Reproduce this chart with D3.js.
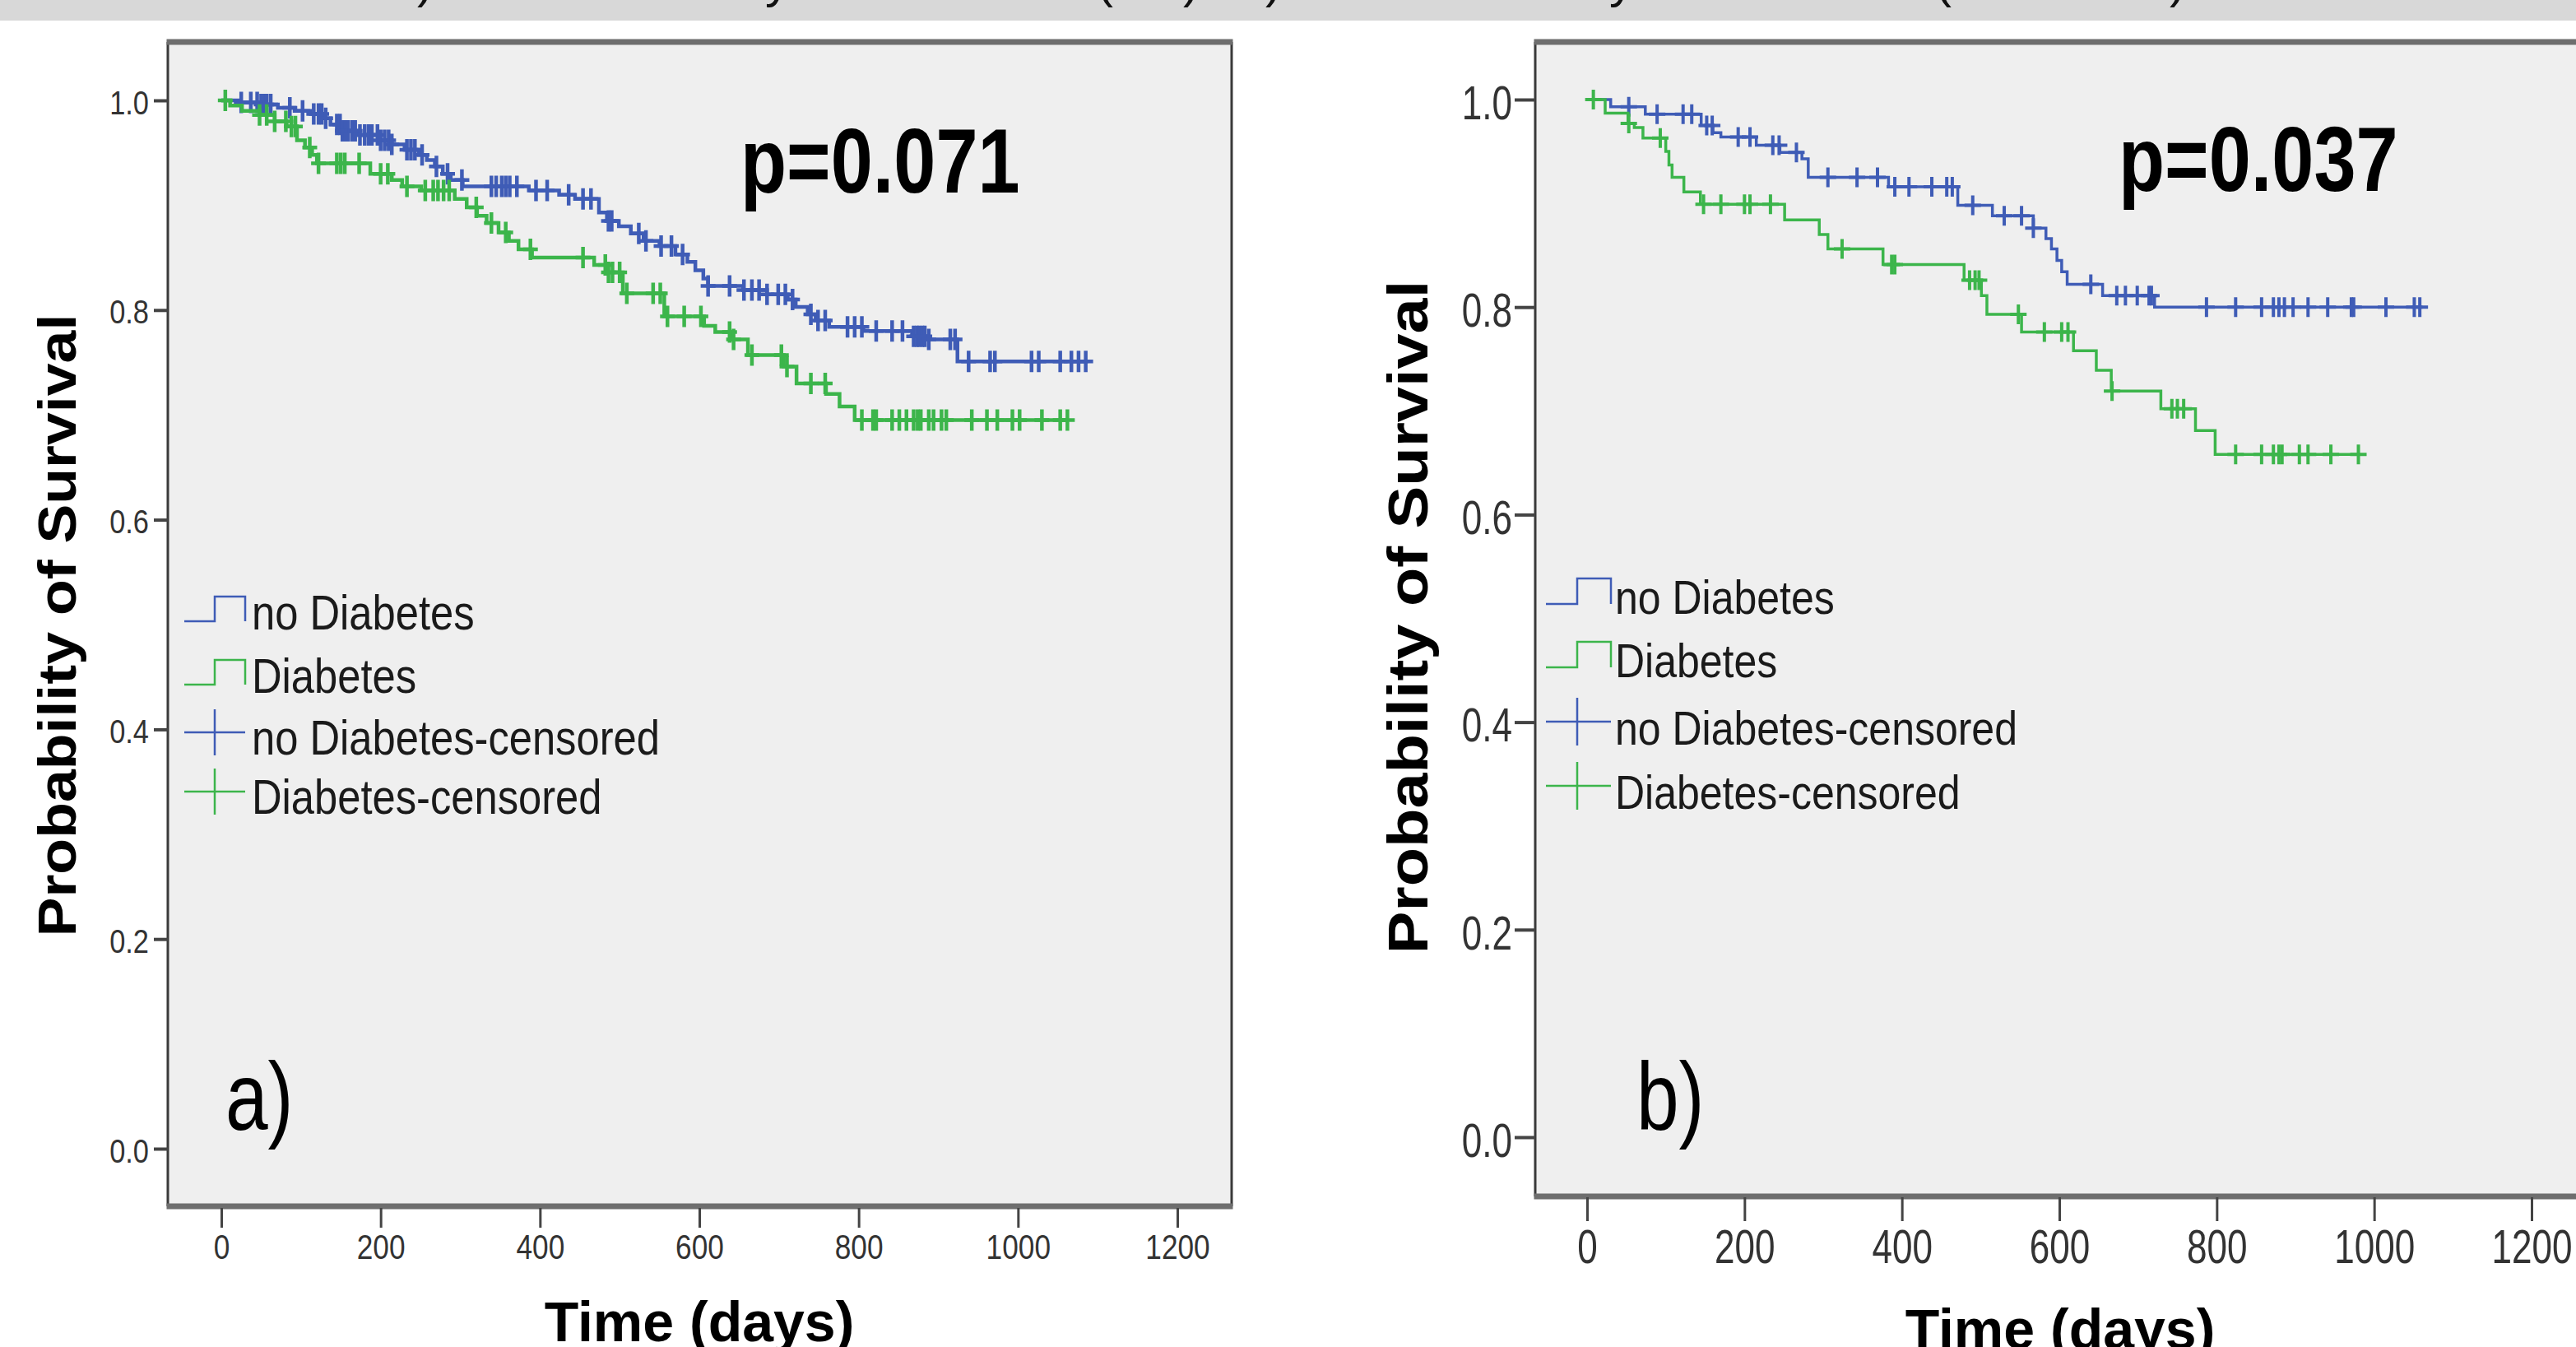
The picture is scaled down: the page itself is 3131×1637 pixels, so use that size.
<!DOCTYPE html>
<html>
<head>
<meta charset="utf-8">
<script src="https://cdn.jsdelivr.net/npm/d3@7"></script>
<style>
  body { margin: 0; background: #fff; }
  svg { display: block; font-family: "Liberation Sans", Arial, sans-serif; }
</style>
</head>
<body>
<svg id="chart" width="3131" height="1637"></svg>
<script>
// ticks + labels
const timeTicks = [0, 200, 400, 600, 800, 1000, 1200];
const survTicks = [0, 0.2, 0.4, 0.6, 0.8, 1.0];
const legendLabels = ["no Diabetes", "Diabetes", "no Diabetes-censored", "Diabetes-censored"];
const pValues = ["p=0.071", "p=0.037"];
const panelLetters = ["a)", "b)"];
const xTitle = "Time (days)";
const yTitle = "Probability of Survival";

// panel a, no diabetes: [day, survival after drop]
const aNoDiabSteps = [[0,1.0],[21,0.998],[46,0.996],[71,0.993],[92,0.990],[112,0.987],[127,0.983],[137,0.977],
  [152,0.971],[172,0.967],[197,0.962],[214,0.958],[230,0.953],[248,0.948],[258,0.943],[268,0.937],[278,0.930],
  [288,0.924],[303,0.918],[386,0.914],[424,0.910],[444,0.906],[474,0.893],[484,0.885],[499,0.880],[514,0.873],
  [530,0.866],[550,0.861],[570,0.853],[585,0.846],[595,0.838],[605,0.830],[611,0.823],[655,0.819],[685,0.815],
  [711,0.810],[721,0.803],[736,0.796],[746,0.790],[763,0.784],[806,0.780],[867,0.775],[887,0.772],[924,0.751]];
const aNoDiabEnd = 1088;
const aNoDiabCens = [25,37,45,50,54,57,62,86,102,116,122,126,131,145,149,152,156,159,164,168,174,180,185,189,196,
  200,205,210,214,233,238,243,252,270,284,302,339,345,352,357,362,371,395,409,436,454,464,486,490,524,533,552,565,
  579,611,638,656,666,675,685,699,708,717,740,749,758,786,795,804,822,842,855,869,873,876,880,883,888,915,921,938,
  965,971,1017,1026,1053,1067,1076,1085];

// panel a, diabetes
const aDiabSteps = [[0,1.0],[11,0.995],[26,0.990],[48,0.986],[67,0.980],[82,0.975],[95,0.962],[105,0.955],
  [114,0.948],[120,0.940],[187,0.930],[214,0.924],[227,0.918],[251,0.914],[293,0.906],[308,0.898],[321,0.890],
  [333,0.883],[348,0.874],[361,0.866],[373,0.858],[390,0.850],[468,0.843],[484,0.836],[504,0.816],[556,0.794],
  [606,0.785],[620,0.779],[640,0.772],[661,0.757],[706,0.746],[722,0.730],[759,0.720],[776,0.708],[795,0.695]];
const aDiabEnd = 1062;
const aDiabCens = [5,48,57,67,81,88,93,111,122,145,150,155,173,200,209,233,256,266,272,279,286,320,339,357,388,
  454,482,486,491,500,509,542,551,560,581,602,638,643,666,703,710,740,758,804,818,822,842,851,860,869,874,878,888,
  894,904,910,942,961,974,993,1002,1030,1053,1062];

// panel b, no diabetes
const bNoDiabSteps = [[0,1.0],[30,0.993],[74,0.986],[145,0.975],[160,0.968],[170,0.964],[215,0.956],[245,0.949],
  [273,0.943],[281,0.925],[383,0.916],[471,0.898],[515,0.888],[567,0.876],[583,0.866],[590,0.856],[597,0.845],
  [603,0.834],[610,0.822],[655,0.811],[721,0.800]];
const bNoDiabEnd = 1060;
const bNoDiabCens = [53,89,122,133,152,159,192,207,236,244,266,306,343,369,391,409,438,457,464,490,530,552,567,
  640,673,684,699,714,717,787,824,857,872,879,886,897,916,941,971,974,1015,1051,1058];

// panel b, diabetes
const bDiabSteps = [[0,1.0],[23,0.987],[52,0.977],[60,0.973],[71,0.963],[100,0.950],[104,0.937],[108,0.925],
  [123,0.911],[144,0.899],[251,0.884],[295,0.870],[306,0.856],[376,0.841],[479,0.826],[501,0.811],[508,0.793],
  [552,0.776],[618,0.758],[647,0.739],[666,0.719],[729,0.702],[773,0.681],[798,0.658]];
const bDiabEnd = 982;
const bDiabCens = [8,53,93,148,170,200,207,233,324,387,391,486,493,498,548,581,603,611,667,743,750,758,824,857,
  872,879,883,905,916,945,980];

const blue = "#3f5cb6";
const green = "#3cb54b";

const svg = d3.select("#chart");

// grey strip at the top (cut-off caption)
svg.append("rect").attr("x", 0).attr("y", 0).attr("width", 3131).attr("height", 25).attr("fill", "#d8d8d8");
const band = svg.append("g");
band.append("clipPath").attr("id", "bandclip").append("rect").attr("width", 3131).attr("height", 25);
[[517, ")"], [945, "y"], [1343, "("], [1448, ")"], [1548, ")"], [1971, "y"], [2362, "("], [2647, ")"]].forEach(d => {
  band.append("text").attr("clip-path", "url(#bandclip)")
    .attr("x", d[0]).attr("y", -3).attr("text-anchor", "middle")
    .attr("font-size", 60).attr("fill", "#111").text(d[1]);
});

const panels = [
  {
    series: [
      { steps: aNoDiabSteps, end: aNoDiabEnd, cens: aNoDiabCens, color: blue },
      { steps: aDiabSteps, end: aDiabEnd, cens: aDiabCens, color: green },
    ],
    p: pValues[0], letter: panelLetters[0],
    frame: { x0: 204, x1: 1497, y0: 51, y1: 1466 },
    xr: [269, 1431], yr: [1396, 122],
    xTickY: 1468, xTickSize: 24, xTickPad: 8, xFont: 42, xSx: 0.84,
    yTickSize: 17, yTickPad: 6, yFont: 40, ySx: 0.86,
    crossH: 9, crossV: 13, lw: 4.5, cw: 4.5,
    pX: 900, pY: 234, letterX: 274, letterY: 1373,
    xTitleX: 850, xTitleY: 1630,
    yTitleX: 92, yTitleY: 760, yTitleFont: 64, yTitleSx: 1.12,
    leg: { x0: 224, xm: 261, x1: 298, tx: 306, base: [765, 842, 917, 989], font: 60, sx: 0.845, lo: -10, hi: -40, cy: -27, cv: 28 },
  },
  {
    series: [
      { steps: bNoDiabSteps, end: bNoDiabEnd, cens: bNoDiabCens, color: blue },
      { steps: bDiabSteps, end: bDiabEnd, cens: bDiabCens, color: green },
    ],
    p: pValues[1], letter: panelLetters[1],
    frame: { x0: 1866, x1: 3150, y0: 51, y1: 1454 },
    xr: [1929, 3077], yr: [1382, 121],
    xTickY: 1455, xTickSize: 29, xTickPad: 10, xFont: 58, xSx: 0.76,
    yTickSize: 25, yTickPad: 3, yFont: 58, ySx: 0.76,
    crossH: 10, crossV: 12, lw: 3.5, cw: 4,
    pX: 2575, pY: 232, letterX: 1989, letterY: 1373,
    xTitleX: 2504, xTitleY: 1639,
    yTitleX: 1735, yTitleY: 750, yTitleFont: 68, yTitleSx: 1.14,
    leg: { x0: 1879, xm: 1917, x1: 1958, tx: 1963, base: [746, 823, 905, 983], font: 58, sx: 0.862, lo: -12, hi: -43, cy: -28, cv: 29 },
  },
];

function squeeze(sel, sx) {
  sel.each(function () {
    const t = d3.select(this);
    const tx = +t.attr("x") || 0, ty = +t.attr("y") || 0;
    t.attr("x", 0).attr("y", 0).attr("transform", `translate(${tx},${ty}) scale(${sx},1)`);
  });
}

panels.forEach(P => {
  const g = svg.append("g");
  const f = P.frame;
  const x = d3.scaleLinear().domain([0, 1200]).range(P.xr);
  const y = d3.scaleLinear().domain([0, 1]).range(P.yr);

  g.append("rect").attr("x", f.x0).attr("y", f.y0).attr("width", f.x1 - f.x0).attr("height", f.y1 - f.y0)
    .attr("fill", "#efefef");

  // survival curves
  const line = d3.line().x(d => x(d[0])).y(d => y(d[1])).curve(d3.curveStepAfter);
  const bis = d3.bisector(d => d[0]).right;
  P.series.forEach(s => {
    const pts = s.steps.concat([[s.end, s.steps[s.steps.length - 1][1]]]);
    g.append("path").attr("d", line(pts)).attr("fill", "none")
      .attr("stroke", s.color).attr("stroke-width", P.lw);
    g.append("g").selectAll("path").data(s.cens).join("path")
      .attr("d", t => {
        const v = s.steps[bis(s.steps, t) - 1][1];
        const cx = x(t), cy = y(v);
        return `M${cx - P.crossH},${cy}H${cx + P.crossH}M${cx},${cy - P.crossV}V${cy + P.crossV}`;
      })
      .attr("stroke", s.color).attr("stroke-width", P.cw).attr("fill", "none");
  });

  // frame
  g.append("line").attr("x1", f.x0).attr("x2", f.x0).attr("y1", f.y0).attr("y2", f.y1).attr("stroke", "#3a3a3a").attr("stroke-width", 3);
  g.append("line").attr("x1", f.x1).attr("x2", f.x1).attr("y1", f.y0).attr("y2", f.y1).attr("stroke", "#3a3a3a").attr("stroke-width", 3);
  g.append("line").attr("x1", f.x0 - 1.5).attr("x2", f.x1 + 1.5).attr("y1", f.y0).attr("y2", f.y0).attr("stroke", "#6e6e6e").attr("stroke-width", 7);
  g.append("line").attr("x1", f.x0 - 1.5).attr("x2", f.x1 + 1.5).attr("y1", f.y1).attr("y2", f.y1).attr("stroke", "#6e6e6e").attr("stroke-width", 7);

  // axes
  const xa = g.append("g").attr("transform", `translate(0,${P.xTickY})`)
    .call(d3.axisBottom(x).tickValues(timeTicks).tickFormat(d3.format("d")).tickSize(P.xTickSize).tickPadding(P.xTickPad));
  xa.attr("font-size", P.xFont).attr("font-family", null);
  xa.select(".domain").remove();
  xa.selectAll(".tick line").attr("stroke", "#444").attr("stroke-width", 3);
  xa.selectAll(".tick text").attr("fill", "#333");
  squeeze(xa.selectAll(".tick text"), P.xSx);

  const ya = g.append("g").attr("transform", `translate(${f.x0},0)`)
    .call(d3.axisLeft(y).tickValues(survTicks).tickFormat(d3.format(".1f")).tickSize(P.yTickSize).tickPadding(P.yTickPad));
  ya.attr("font-size", P.yFont).attr("font-family", null);
  ya.select(".domain").remove();
  ya.selectAll(".tick line").attr("stroke", "#444").attr("stroke-width", 4);
  ya.selectAll(".tick text").attr("fill", "#333").attr("dy", "0.4em");
  squeeze(ya.selectAll(".tick text"), P.ySx);

  // titles
  g.append("text").attr("x", P.xTitleX).attr("y", P.xTitleY).attr("text-anchor", "middle")
    .attr("font-size", 68).attr("font-weight", "bold").attr("fill", "#000").text(xTitle);
  g.append("text").attr("text-anchor", "middle").attr("font-size", P.yTitleFont).attr("font-weight", "bold")
    .attr("transform", `translate(${P.yTitleX},${P.yTitleY}) rotate(-90) scale(${P.yTitleSx},1)`).text(yTitle);

  // p value + panel letter
  g.append("text").attr("font-size", 112).attr("font-weight", "bold")
    .attr("transform", `translate(${P.pX},${P.pY}) scale(0.82,1)`).text(P.p);
  g.append("text").attr("font-size", 116)
    .attr("transform", `translate(${P.letterX},${P.letterY}) scale(0.8,1)`).text(P.letter);

  // legend
  const L = P.leg;
  const legColors = [blue, green, blue, green];
  legendLabels.forEach((lab, i) => {
    const b = L.base[i];
    const d = i < 2
      ? `M${L.x0},${b + L.lo}H${L.xm}V${b + L.hi}H${L.x1}V${b + L.lo}`
      : `M${L.x0},${b + L.cy}H${L.x1}M${L.xm},${b + L.cy - L.cv}V${b + L.cy + L.cv}`;
    g.append("path").attr("d", d).attr("fill", "none").attr("stroke", legColors[i]).attr("stroke-width", 2.5);
    g.append("text").attr("font-size", L.font).attr("fill", "#1a1a1a")
      .attr("transform", `translate(${L.tx},${b}) scale(${L.sx},1)`).text(lab);
  });
});
</script>
</body>
</html>
